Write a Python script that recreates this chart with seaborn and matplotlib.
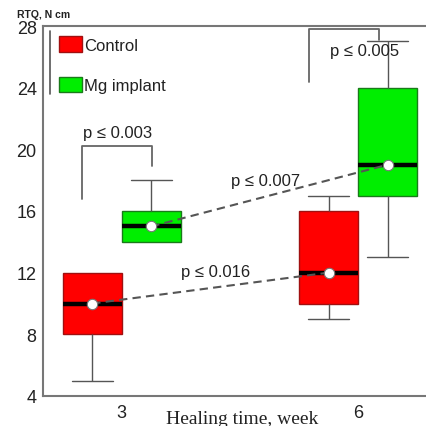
import numpy as np
import pandas as pd
import matplotlib
matplotlib.use("Agg")
import matplotlib.pyplot as plt
from matplotlib.patches import Patch
from matplotlib.lines import Line2D
import seaborn as sns

# ---- data ----
weeks = [3, 6]
groups = ["Control", "Mg implant"]
# five-number summaries: [min, Q1, median, Q3, max]
control_w3 = [5, 8, 10, 12, 12]
mg_w3 = [14, 14, 15, 16, 18]
control_w6 = [9, 10, 12, 16, 17]
mg_w6 = [13, 17, 19, 24, 27]
medians_control = [10, 12]
medians_mg = [15, 19]
yticks = [4, 8, 12, 16, 20, 24, 28]
p_labels = ["p ≤ 0.003", "p ≤ 0.005", "p ≤ 0.007", "p ≤ 0.016"]

colors = {"Control": "#ff0000", "Mg implant": "#00ee00"}
edges = {"Control": "#a01010", "Mg implant": "#1a7a1a"}

rows = []
for wk, g, vals in [(3, "Control", control_w3), (3, "Mg implant", mg_w3),
                    (6, "Control", control_w6), (6, "Mg implant", mg_w6)]:
    for v in vals:
        rows.append({"week": wk, "group": g, "RTQ": v})
df = pd.DataFrame(rows)

sns.set_style("white")
plt.rcParams["font.family"] = ["Liberation Sans", "DejaVu Sans"]

fig = plt.figure(figsize=(4.27, 4.27), dpi=100)
ax = fig.add_axes([43 / 427, 30 / 427, 393.8 / 427, 370 / 427])

sns.boxplot(data=df, x="week", y="RTQ", hue="group", hue_order=groups,
            palette=colors, native_scale=True, width=0.5, gap=0, whis=(0, 100),
            saturation=1, showfliers=False, ax=ax,
            whiskerprops=dict(color="#555555", linewidth=1.0),
            capprops=dict(color="#555555", linewidth=1.0),
            medianprops=dict(color="black", linewidth=3.2),
            legend=False)

for p in ax.patches:
    fc = p.get_facecolor()
    if fc[0] > 0.5:
        p.set_edgecolor(edges["Control"])
    else:
        p.set_edgecolor(edges["Mg implant"])
    p.set_linewidth(1.0)

# caps: shorten, and hide those of zero-length whiskers
zero_whiskers = []
caps = []
for ln in ax.lines:
    xd = np.asarray(ln.get_xdata(), dtype=float)
    yd = np.asarray(ln.get_ydata(), dtype=float)
    if len(xd) != 2 or ln.get_color() != "#555555":
        continue
    if xd[0] == xd[1]:
        if yd[0] == yd[1]:
            zero_whiskers.append((xd[0], yd[0]))
    elif yd[0] == yd[1]:
        caps.append(ln)
for ln in caps:
    xd = np.asarray(ln.get_xdata(), dtype=float)
    y0 = float(ln.get_ydata()[0])
    c = xd.mean()
    ln.set_xdata([c - 0.26, c + 0.26])
    for (zx, zy) in zero_whiskers:
        if abs(zx - c) < 1e-6 and abs(zy - y0) < 1e-6:
            ln.set_visible(False)

off = 0.375
xc = [w - off for w in weeks]
xm = [w + off for w in weeks]
ax.plot(xc, medians_control, ls=(0, (4, 2.5)), color="#555555", lw=1.5, zorder=5)
ax.plot(xm, medians_mg, ls=(0, (4, 2.5)), color="#555555", lw=1.5, zorder=5)
ax.plot(xc + xm, medians_control + medians_mg, ls="none", marker="o", ms=7.5,
        mfc="white", mec="#777777", mew=0.8, zorder=6)

# brackets
bk = dict(color="#666666", lw=1.3)
ax.plot([2.50, 2.50, 3.39, 3.39], [16.8, 20.2, 20.2, 18.9], **bk)
ax.plot([5.38, 5.38, 6.27, 6.27], [24.4, 27.8, 27.8, 27.1], **bk)
tk = dict(fontsize=12, color="#222222", ha="center", va="center")
ax.text(2.95, 21.1, p_labels[0], **tk)
ax.text(6.08, 26.4, p_labels[1], **tk)
ax.text(4.83, 18.0, p_labels[2], **tk)
ax.text(4.19, 12.1, p_labels[3], **tk)

ax.set_xlim(2, 7)
ax.set_ylim(4, 28)
ax.set_xticks(weeks)
ax.set_xticklabels([str(w) for w in weeks])
ax.set_yticks(yticks)
ax.set_yticklabels([str(t) for t in yticks])
ax.tick_params(axis="both", which="major", length=2.5, width=2, color="#222222",
               labelsize=13, labelcolor="#222222", pad=2, direction="out")
ax.tick_params(axis="x", pad=3)
for s in ["left", "bottom", "top", "right"]:
    ax.spines[s].set_color("#777777")
    ax.spines[s].set_linewidth(1.5)
ax.set_ylabel("")
ax.set_xlabel("Healing time, week", family=["Liberation Serif", "DejaVu Serif"],
              fontsize=14, color="#222222")
ax.xaxis.set_label_coords((242 - 43) / 393.8, -0.037)
ax.xaxis.label.set_va("top")
fig.text(17 / 427, 1 - 15 / 427, "RTQ, N cm", fontsize=7.5, fontweight="bold",
         ha="left", va="center", color="#222222")

# legend
handles = [Patch(facecolor=colors[g], edgecolor=edges[g], label=g) for g in groups]
leg = ax.legend(handles=handles, loc="upper left", bbox_to_anchor=(0.04, 0.972),
                frameon=False, fontsize=12, handlelength=1.4, handleheight=1.05,
                handletextpad=0.12, labelspacing=1.45, borderpad=0, borderaxespad=0)
for t in leg.get_texts():
    t.set_color("#222222")
ax.add_line(Line2D([0.018, 0.018], [0.816, 0.986], transform=ax.transAxes,
                   color="#555555", lw=1.2))

fig.savefig("out.png", dpi=100)
